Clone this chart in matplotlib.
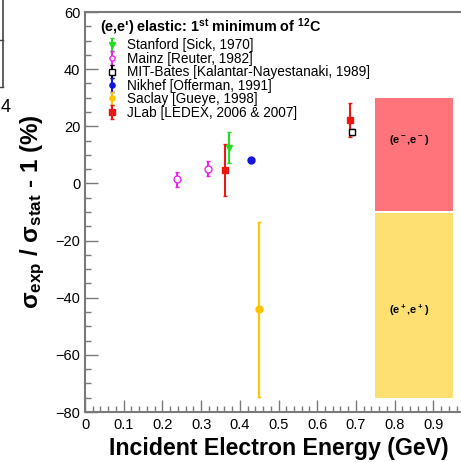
import matplotlib
matplotlib.use("Agg")
import matplotlib.pyplot as plt
from matplotlib.lines import Line2D
from matplotlib.patches import Rectangle
from matplotlib.ticker import MultipleLocator

plt.rcParams["font.family"] = ["Liberation Sans", "DejaVu Sans"]
plt.rcParams["mathtext.fontset"] = "custom"
plt.rcParams["mathtext.rm"] = "Liberation Sans"
plt.rcParams["mathtext.bf"] = "Liberation Sans:bold"

# first-minimum cross-section deviations (%) per experiment
stanford_e = [0.373]
stanford_y = [12.5]
stanford_err = [5.5]

mainz_e = [0.237, 0.318]
mainz_y = [1.4, 5.2]
mainz_err = [2.5, 2.7]

bates_e = [0.690]
bates_y = [18.1]
bates_err = [1.0]

nikhef_e = [0.430]
nikhef_y = [8.2]
nikhef_err = [0.6]

saclay_e = [0.449]
saclay_y = [-44.1]
saclay_err = [30.5]

jlab_e = [0.362, 0.685]
jlab_y = [4.7, 22.1]
jlab_err = [9.0, 6.0]

# bands for the two kinematic regimes: (x0, x1, y0, y1)
band_ee_minus = (0.75, 0.95, -9.5, 30.0)
band_ee_plus = (0.75, 0.95, -75.0, -10.5)

W, H = 461, 462
fig = plt.figure(figsize=(W / 100, H / 100), dpi=100)
ax = fig.add_axes([85 / W, 50 / H, 387 / W, 400 / H])

grey = "#7a7a7a"
series = [
    ("Stanford [Sick, 1970]", stanford_e, stanford_y, stanford_err, "#22dd22", "v", "#22dd22"),
    ("Mainz [Reuter, 1982]", mainz_e, mainz_y, mainz_err, "#ee22ee", "o", "white"),
    ("MIT-Bates [Kalantar-Nayestanaki, 1989]", bates_e, bates_y, bates_err, "black", "s", "white"),
    ("Nikhef [Offerman, 1991]", nikhef_e, nikhef_y, nikhef_err, "#1515dd", "o", "#1515dd"),
    ("Saclay [Gueye, 1998]", saclay_e, saclay_y, saclay_err, "#ffc400", "o", "#ffc400"),
    ("JLab [LEDEX, 2006 & 2007]", jlab_e, jlab_y, jlab_err, "#ee1515", "s", "#ee1515"),
]
for label, e, y, err, col, mk, fc in series:
    ax.errorbar(e, y, yerr=err, fmt=mk, color=col, mfc=fc, mec=col,
                ms=5, mew=1.0, elinewidth=1.5, capsize=1.5, capthick=1.0,
                label=label, zorder=3)

for (x0, x1, y0, y1), col in [(band_ee_minus, "#ff737a"), (band_ee_plus, "#fde071")]:
    ax.add_patch(Rectangle((x0, y0), x1 - x0, y1 - y0, facecolor=col,
                           edgecolor="none", zorder=1))
ax.text(0.837, 15.2, "(e$^{\\bf -}$,e$^{\\bf -}$)", ha="center", va="center",
        fontsize=8, fontweight="bold")
ax.text(0.837, -44.3, "(e$^{\\bf +}$,e$^{\\bf +}$)", ha="center", va="center",
        fontsize=8, fontweight="bold")

ax.set_xlim(0, 1.0)
ax.set_ylim(-80, 60)
ax.xaxis.set_major_locator(MultipleLocator(0.1))
ax.xaxis.set_minor_locator(MultipleLocator(0.02))
ax.yaxis.set_major_locator(MultipleLocator(20))
ax.yaxis.set_minor_locator(MultipleLocator(5))
ax.set_xticks([0, 0.1, 0.2, 0.3, 0.4, 0.5, 0.6, 0.7, 0.8, 0.9])
ax.set_xticklabels(["0", "0.1", "0.2", "0.3", "0.4", "0.5", "0.6", "0.7", "0.8", "0.9"])
ax.tick_params(which="both", direction="in", colors=grey, labelcolor="black",
               labelsize=10.5, top=False, right=False)
ax.tick_params(which="major", length=9, width=1.0)
ax.tick_params(which="minor", length=4.5, width=1.0)
ax.tick_params(axis="x", pad=4)
for s in ax.spines.values():
    s.set_color(grey)
    s.set_linewidth(1.5)

ax.set_xlabel("Incident Electron Energy (GeV)", fontsize=16.7, fontweight="bold",
              labelpad=4)
ax.set_ylabel("$\\bf\\sigma_{exp}$ / $\\bf\\sigma_{stat}$ - 1 (%)", fontsize=17.5,
              fontweight="bold", labelpad=6)

leg = ax.legend(loc="upper left", bbox_to_anchor=(15 / 387, 0.988), frameon=False,
                fontsize=9.8, handlelength=1.7, handletextpad=0.3,
                labelspacing=-0.04, borderaxespad=0.0, borderpad=0.0,
                markerscale=0.75,
                title="(e,e') elastic: 1$^{\\bf st}$ minimum of $^{\\bf 12}$C",
                title_fontproperties={"size": 10.4, "weight": "bold"})
leg._legend_box.align = "left"
leg._legend_box.sep = 0

# fragment of the neighbouring panel at the left edge
fig.add_artist(Line2D([3 / W, 3 / W], [1, 1 - 87 / H], transform=fig.transFigure,
                      color="#444444", lw=1.2))
fig.add_artist(Line2D([0, 3 / W], [1 - 40 / H, 1 - 40 / H], transform=fig.transFigure,
                      color="#444444", lw=1.0))
fig.add_artist(Line2D([0, 3 / W], [1 - 87 / H, 1 - 87 / H], transform=fig.transFigure,
                      color="#444444", lw=1.0))
fig.text(0.5 / W, 1 - 108 / H, "4", fontsize=13, va="center", ha="left")

fig.savefig("out.png", dpi=100)
